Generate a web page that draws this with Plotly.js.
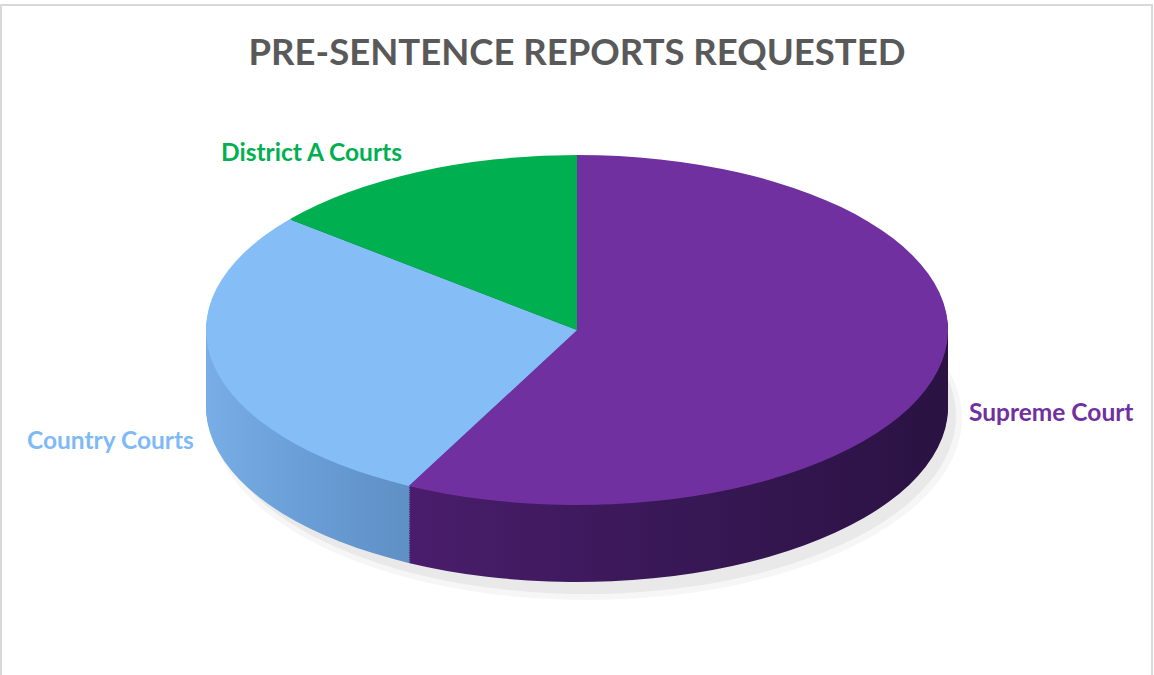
<!DOCTYPE html>
<html>
<head>
<meta charset="utf-8">
<script src="https://cdn.plot.ly/plotly-3.0.1.min.js"></script>
<style>
  html, body { margin: 0; padding: 0; background: #ffffff; }
  #chart { width: 1154px; height: 675px; }
</style>
</head>
<body>
<div id="chart"></div>
<script>
// ---- data ----
var categories = ['Supreme Court', 'Country Courts', 'District A Courts'];
var values = [575, 284, 141];
var topColors = ['#7030a0', '#85bdf6', '#00b050'];
var sideColors = ['#3e1a58', '#6a9fd8', '#007a38'];
var labelColors = ['#7030a0', '#7fbaf6', '#00b050'];
var chartTitle = 'PRE-SENTENCE REPORTS REQUESTED';

// ---- geometry of the tilted pie (pixels) ----
var W = 1154, H = 675;
var CX = 577, CY = 330, A = 371, B = 175, THICK = 77;
var NLAYERS = 45;

function pieTrace(colors) {
  return {
    type: 'pie',
    labels: categories,
    values: values,
    sort: false,
    direction: 'clockwise',
    rotation: 0,
    textinfo: 'none',
    hoverinfo: 'skip',
    showlegend: false,
    domain: {x: [0, 1], y: [0, 1]},
    marker: {colors: colors, line: {width: 0}}
  };
}

var data = [];
for (var i = 0; i < NLAYERS; i++) data.push(pieTrace(sideColors));
data.push(pieTrace(topColors));

function px(x) { return x / W; }
function py(y) { return 1 - y / H; }

var labelPos = [[1051, 411], [110, 439], [311, 151]];
var annotations = categories.map(function (c, k) {
  return {
    text: '<b>' + c + '</b>',
    x: px(labelPos[k][0]), y: py(labelPos[k][1]),
    xref: 'paper', yref: 'paper',
    xanchor: 'center', yanchor: 'middle',
    showarrow: false,
    font: {family: 'Lato, Open Sans, sans-serif', size: 24.5, color: labelColors[k]}
  };
});

var layout = {
  width: W, height: H,
  margin: {l: 0, r: 0, t: 0, b: 0},
  paper_bgcolor: '#ffffff',
  showlegend: false,
  title: {
    text: '<b>' + chartTitle + '</b>',
    x: 0.5, xref: 'paper', xanchor: 'center',
    y: 1 - 52 / H, yref: 'container', yanchor: 'middle',
    font: {family: 'Lato, Open Sans, sans-serif', size: 36.5, color: '#595959'}
  },
  annotations: annotations,
  shapes: [
    {type: 'circle', xref: 'paper', yref: 'paper', layer: 'below',
     x0: px(212), x1: px(962), y0: py(600), y1: py(236),
     fillcolor: 'rgba(0,0,0,0.035)', line: {width: 0}},
    {type: 'circle', xref: 'paper', yref: 'paper', layer: 'below',
     x0: px(216), x1: px(956), y0: py(594), y1: py(238),
     fillcolor: 'rgba(0,0,0,0.05)', line: {width: 0}},
    {type: 'rect', xref: 'paper', yref: 'paper', layer: 'above',
     x0: px(1), x1: px(1152), y0: py(690), y1: py(5),
     line: {color: '#d9d9d9', width: 2}}
  ]
};

Plotly.newPlot('chart', data, layout, {staticPlot: true}).then(function (gd) {
  var svgNS = 'http://www.w3.org/2000/svg';
  var traces = gd.querySelectorAll('.pielayer .trace');
  var top = traces[traces.length - 1];
  var bb = top.getBBox();
  var cx0 = bb.x + bb.width / 2, cy0 = bb.y + bb.height / 2, r0 = bb.width / 2;

  // gradients for the side walls (in the pie's own coordinates)
  var defs = gd.querySelector('svg.main-svg defs');
  function grad(id, stops) {
    var g = document.createElementNS(svgNS, 'linearGradient');
    g.setAttribute('id', id);
    g.setAttribute('gradientUnits', 'userSpaceOnUse');
    g.setAttribute('x1', cx0 - r0); g.setAttribute('x2', cx0 + r0);
    g.setAttribute('y1', 0); g.setAttribute('y2', 0);
    stops.forEach(function (s) {
      var st = document.createElementNS(svgNS, 'stop');
      st.setAttribute('offset', s[0]);
      st.setAttribute('stop-color', s[1]);
      g.appendChild(st);
    });
    defs.appendChild(g);
  }
  grad('sideGrad0', [[0, '#4c1f70'], [0.27, '#4a1d6c'], [0.6, '#3a1858'], [1, '#2a1242']]);
  grad('sideGrad1', [[0, '#78ade6'], [0.12, '#6b9fd8'], [0.27, '#5f90c6'], [1, '#5f90c6']]);
  grad('sideGrad2', [[0, '#007a38'], [1, '#006a30']]);

  for (var i = 0; i < traces.length; i++) {
    var d = (i < NLAYERS) ? THICK * (NLAYERS - i) / NLAYERS : 0;
    var tr = 'translate(' + CX + ',' + (CY + d) + ') scale(' + (A / r0) + ',' + (B / r0) + ') translate(' + (-cx0) + ',' + (-cy0) + ')';
    traces[i].setAttribute('transform', tr);
    if (i < NLAYERS) {
      var slices = traces[i].querySelectorAll('g.slice');
      for (var j = 0; j < slices.length; j++) {
        var p = slices[j].querySelector('path');
        if (p) p.style.fill = 'url(#sideGrad' + j + ')';
      }
    }
  }
});
</script>
</body>
</html>
